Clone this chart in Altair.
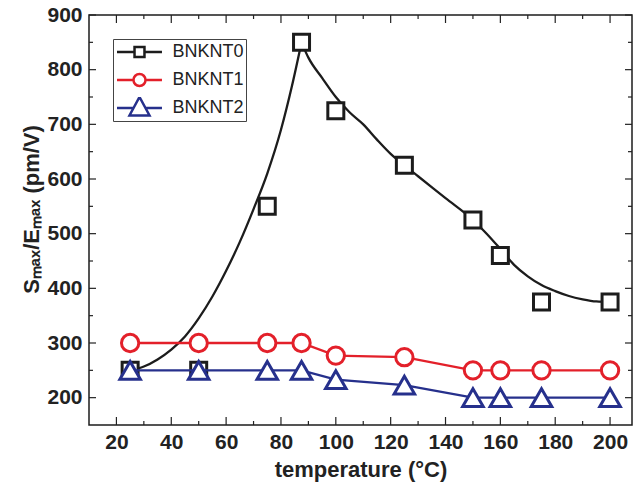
import altair as alt
import pandas as pd

# ---- data ----
temps = [25, 50, 75, 87.5, 100, 125, 150, 160, 175, 200]
bnknt0 = [250, 250, 550, 850, 725, 625, 525, 460, 375, 375]
bnknt1 = [300, 300, 300, 300, 277, 274, 250, 250, 250, 250]
bnknt2 = [250, 250, 250, 250, 233, 223, 200, 200, 200, 200]

# guide curve drawn through BNKNT0 (rising branch, falling branch)
fit_t = [25, 30, 35, 40, 45, 50, 55, 60, 65, 70, 75, 80, 84, 87.5,
         87.5, 90, 95, 100, 105, 110, 115, 120, 125, 130, 140, 150, 155, 160,
         165, 170, 175, 180, 185, 190, 195, 200]
fit_v = [250, 257, 270, 288, 312, 345, 385, 432, 485, 545, 610, 690, 770, 850,
         850, 822, 785, 750, 722, 700, 672, 646, 625, 605, 565, 525, 500, 472,
         443, 422, 406, 395, 386, 380, 376, 375]
fit_seg = ["up"] * 14 + ["down"] * 22

names = ["BNKNT0", "BNKNT1", "BNKNT2"]
colors = ["#1c1c1c", "#e3202a", "#26308c"]

x_major = [20, 40, 60, 80, 100, 120, 140, 160, 180, 200]
x_minor = [30, 50, 70, 90, 110, 130, 150, 170, 190]
y_major = [200, 300, 400, 500, 600, 700, 800, 900]
y_minor = [250, 350, 450, 550, 650, 750, 850]

W, H = 543, 410

df = pd.DataFrame({
    "temperature": temps * 3,
    "value": bnknt0 + bnknt1 + bnknt2,
    "series": [names[0]] * len(temps) + [names[1]] * len(temps) + [names[2]] * len(temps),
})
fit = pd.DataFrame({"temperature": fit_t, "value": fit_v, "seg": fit_seg})

xs = alt.Scale(domain=[10, 208], nice=False, zero=False)
ys = alt.Scale(domain=[150, 900], nice=False, zero=False)

X = alt.X("temperature:Q", scale=xs,
          axis=alt.Axis(values=x_major, title="temperature (°C)", labelPadding=6,
                        titlePadding=7, labelFlush=False, labelOverlap=False))
Y = alt.Y("value:Q", scale=ys,
          axis=alt.Axis(values=y_major, title="Sₘₐₓ/Eₘₐₓ (pm/V)", labelPadding=7,
                        titlePadding=3, titleY=194, labelFlush=False, labelOverlap=False))

base = alt.Chart(df)

curve = alt.Chart(fit).mark_line(color=colors[0], strokeWidth=2.3, interpolate="monotone").encode(
    x=X, y=Y, detail="seg:N")

def line(i):
    return base.transform_filter(alt.datum.series == names[i]).mark_line(
        color=colors[i], strokeWidth=2.3).encode(x="temperature:Q", y="value:Q")

def pts(i, shape, size):
    return base.transform_filter(alt.datum.series == names[i]).mark_point(
        shape=shape, size=size, stroke=colors[i], strokeWidth=3, fill="white",
        fillOpacity=1, opacity=1).encode(x="temperature:Q", y="value:Q")

# inward ticks on all four sides
tx_major = pd.DataFrame({"temperature": x_major})
tx_minor = pd.DataFrame({"temperature": x_minor})
ty_major = pd.DataFrame({"value": y_major})
ty_minor = pd.DataFrame({"value": y_minor})
tick_col = "#222222"

def xticks(d, length):
    b = alt.Chart(d).mark_rule(color=tick_col, strokeWidth=1.2)
    return (b.encode(x="temperature:Q", y=alt.value(H), y2=alt.value(H - length)) +
            b.encode(x="temperature:Q", y=alt.value(0), y2=alt.value(length)))

def yticks(d, length):
    b = alt.Chart(d).mark_rule(color=tick_col, strokeWidth=1.2)
    return (b.encode(y="value:Q", x=alt.value(0), x2=alt.value(length)) +
            b.encode(y="value:Q", x=alt.value(W), x2=alt.value(W - length)))

# legend (line + marker glyphs as custom symbol paths)
paths = [
    "M-3.21,0H-0.71M0.71,0H3.21M-0.71,-0.71H0.71V0.71H-0.71Z",
    "M-3.21,0H-0.86M0.86,0H3.21M-0.86,0A0.86,0.86 0 1,1 0.86,0A0.86,0.86 0 1,1 -0.86,0Z",
    "M-3.21,0H-0.85M0.85,0H3.21M0,-1.57L1.43,1.06H-1.43Z",
]
leg = alt.Legend(orient="none", legendX=24, legendY=24, title=None, padding=2,
                 rowPadding=6, clipHeight=22, symbolSize=196, symbolStrokeWidth=2.5,
                 symbolOffset=15.5, labelOffset=24, labelFont="Liberation Sans",
                 labelFontSize=18, labelColor="#222222", strokeColor="#444444",
                 symbolOpacity=1)
legend_layer = base.transform_filter("false").mark_point(filled=False, opacity=1).encode(
    stroke=alt.Stroke("series:N", scale=alt.Scale(domain=names, range=colors), legend=leg),
    shape=alt.Shape("series:N", scale=alt.Scale(domain=names, range=paths), legend=leg),
)

chart = alt.layer(
    curve,
    pts(0, "square", 256),
    line(1),
    pts(1, "circle", 300),
    line(2),
    pts(2, "triangle-up", 420),
    xticks(tx_major, 8), xticks(tx_minor, 4),
    yticks(ty_major, 7), yticks(ty_minor, 4),
    legend_layer,
).properties(
    width=W, height=H, autosize=alt.AutoSizeParams(type="none"),
    padding={"left": 89, "top": 15, "right": 1, "bottom": 63},
    background="white",
).configure_view(
    stroke="#1c1c1c", strokeWidth=1.5
).configure_axis(
    labelFont="Liberation Sans", labelFontWeight="bold", labelFontSize=21,
    labelColor="#222222", titleFont="Liberation Sans", titleFontWeight="bold",
    titleFontSize=22, titleColor="#222222", ticks=False, tickSize=0,
    domain=False, grid=False,
)

chart.save("out.html", embed_options={"renderer": "svg", "actions": False})
